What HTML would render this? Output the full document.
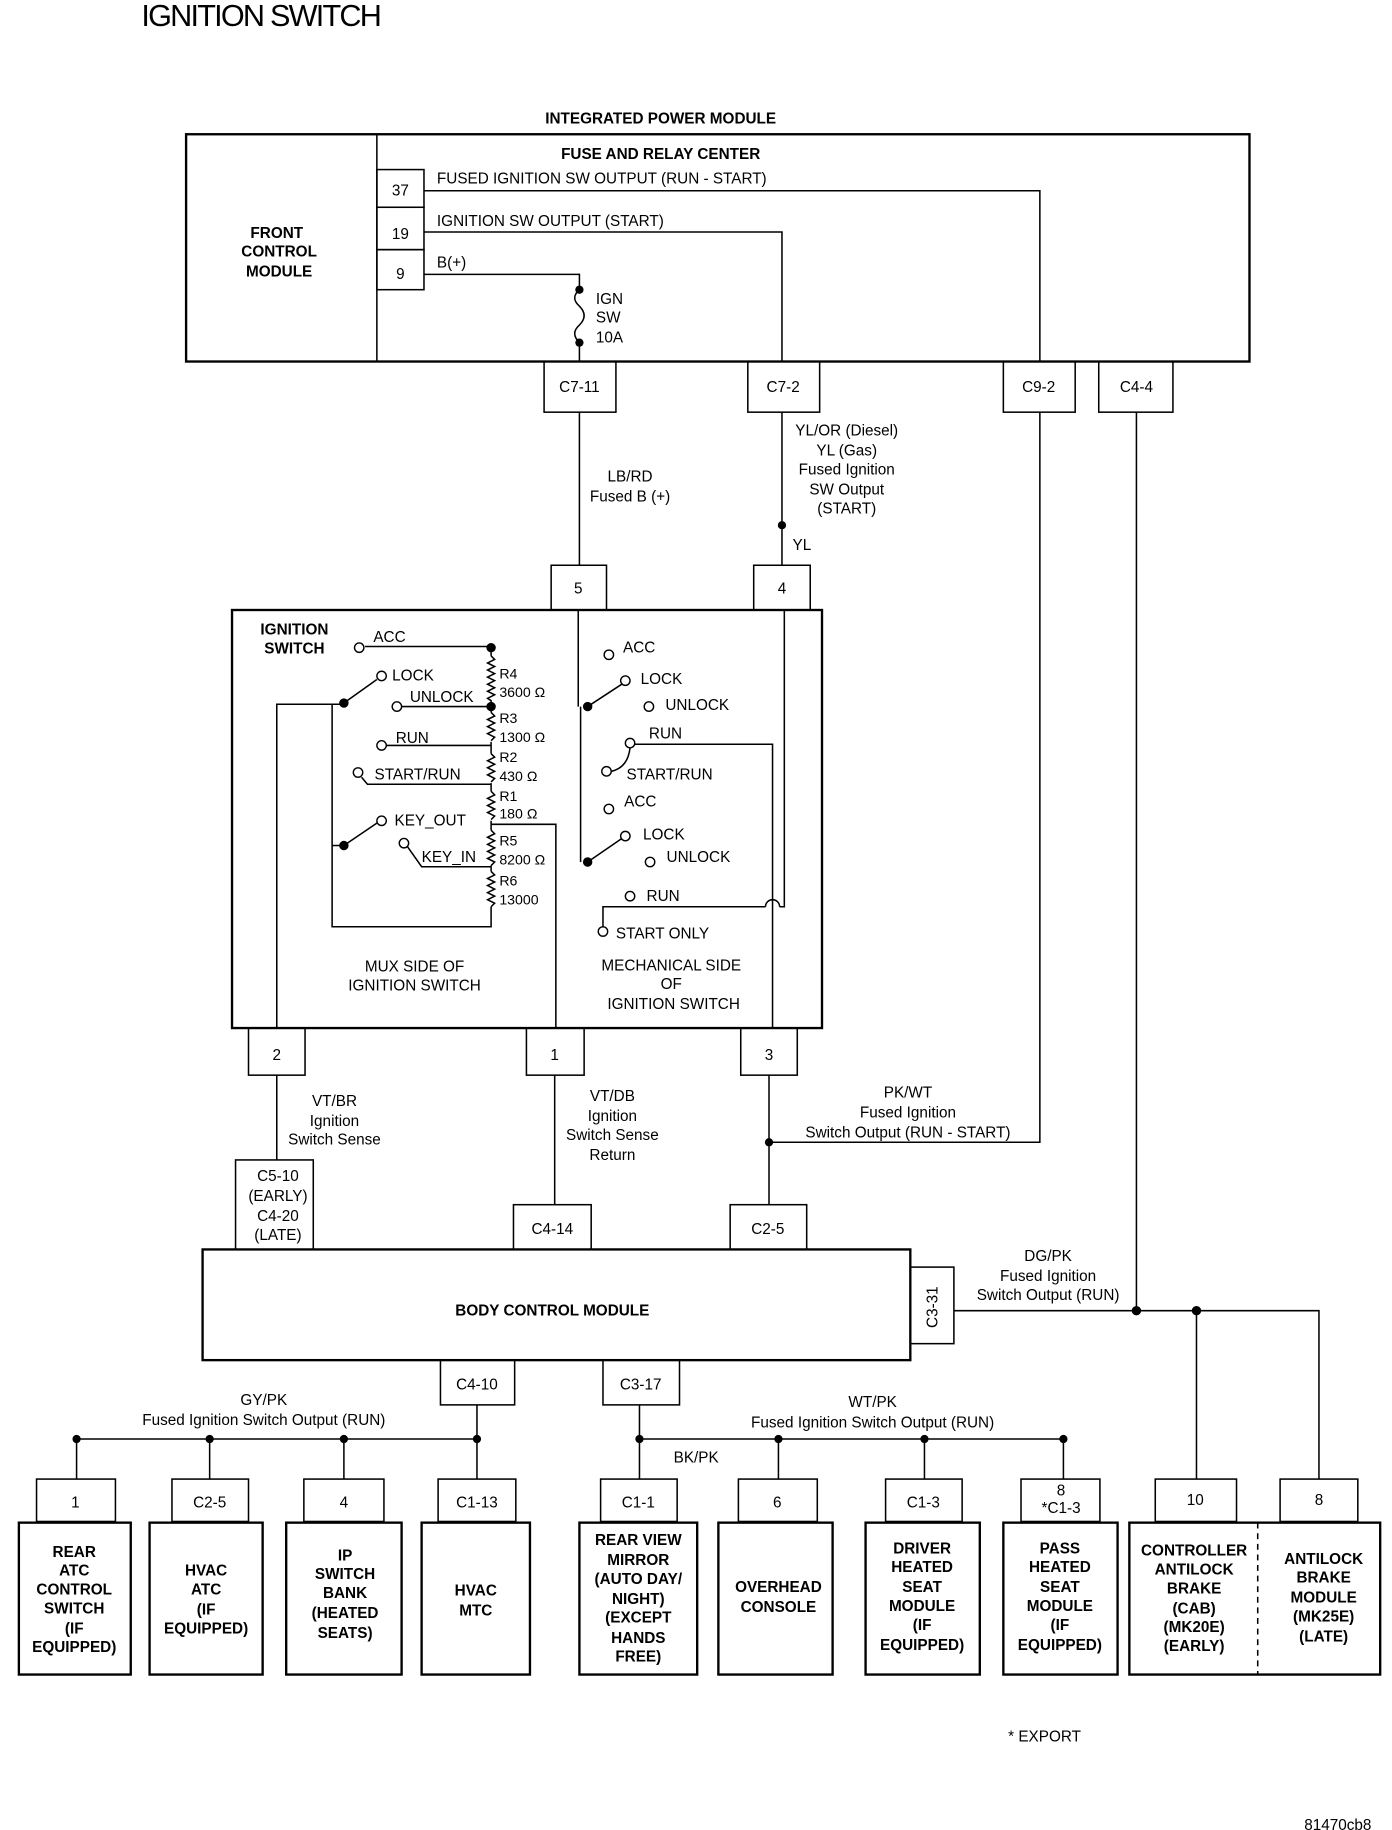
<!DOCTYPE html>
<html><head><meta charset="utf-8"><style>
html,body{margin:0;padding:0;background:#fff}
svg{display:block}
text{font-family:"Liberation Sans",sans-serif;fill:#000}
.b{font-weight:bold;font-size:13px}
.n{font-size:13px}
</style></head><body>
<svg width="1392" height="1830" viewBox="0 0 1182 1554" xmlns="http://www.w3.org/2000/svg">
<g fill="none" stroke="#000" stroke-width="1.3">
<!-- IPM -->
<rect x="158" y="114" width="903" height="193" stroke-width="2"/>
<line x1="320" y1="114" x2="320" y2="307"/>
<rect x="320" y="144" width="40" height="32"/><rect x="320" y="176" width="40" height="36"/><rect x="320" y="212" width="40" height="34"/>
<polyline points="360,162 883,162 883,307"/>
<polyline points="360,197 664,197 664,307"/>
<polyline points="360,233 492,233 492,246"/>
<path d="M492,246 q-8,7 0,14 q8,8 0,16 q-8,7 0,15"/>
<line x1="492" y1="291" x2="492" y2="307"/>
<rect x="462" y="307" width="61" height="43"/><rect x="635" y="307" width="61" height="43"/>
<rect x="852" y="307" width="61" height="43"/><rect x="933" y="307" width="63" height="43"/>
<line x1="492" y1="350" x2="492" y2="480"/>
<line x1="664" y1="350" x2="664" y2="480"/>
<polyline points="883,350 883,970 653,970"/>
<line x1="965" y1="350" x2="965" y2="1113"/>
<rect x="468" y="480" width="47" height="38"/><rect x="640" y="480" width="48" height="38"/>
<!-- ignition switch -->
<rect x="197" y="518" width="501" height="355" stroke-width="2"/>
<polyline points="417,700 472,700 472,873"/>
<polyline points="292,598 235,598 235,873"/>
<polyline points="282,598 282,787 417,787 417,770"/>
<line x1="282" y1="718" x2="292" y2="718"/>
<polyline points="310,549 417,549 417,557"/>
<line x1="417" y1="598" x2="417" y2="605"/><line x1="417" y1="630" x2="417" y2="640"/>
<line x1="417" y1="665" x2="417" y2="672"/><line x1="417" y1="697" x2="417" y2="705"/>
<line x1="417" y1="735" x2="417" y2="740"/>
<path d="M417,557 l3,3 l-6,3 l6,3 l-6,3 l6,3 l-6,3 l6,3 l-6,3 l6,3 l-6,3 l6,3 l-6,3 l3,2 l0,3"/>
<path d="M417,605 l3,3 l-6,3 l6,3 l-6,3 l6,3 l-6,3 l6,3 l-3,3"/>
<path d="M417,640 l3,3 l-6,3 l6,3 l-6,3 l6,3 l-6,3 l6,3 l-3,3"/>
<path d="M417,672 l3,3 l-6,3 l6,3 l-6,3 l6,3 l-6,3 l6,3 l-3,3"/>
<path d="M417,705 l3,3 l-6,3 l6,3 l-6,3 l6,3 l-6,3 l6,3 l-6,3 l6,3 l-3,3"/>
<path d="M417,740 l3,3 l-6,3 l6,3 l-6,3 l6,3 l-6,3 l6,3 l-6,3 l6,3 l-3,3"/>
<line x1="341" y1="600" x2="417" y2="600"/>
<line x1="328" y1="633" x2="417" y2="633"/>
<polyline points="307,660 312,666 417,666"/>
<polyline points="346,719 358,736 417,736"/>
<line x1="292" y1="597" x2="320" y2="577"/>
<line x1="292" y1="718" x2="320" y2="699"/>
<!-- mech -->
<polyline points="491,518 491,600"/><line x1="493" y1="600" x2="493" y2="732"/>
<line x1="499" y1="600" x2="528" y2="581"/><line x1="499" y1="732" x2="528" y2="712"/>
<polyline points="539,632 656,632 656,873"/>
<path d="M519,655 q14,-3 16,-20"/>
<polyline points="512,787 512,770 650,770"/><path d="M650,770 a6,6 0 0 1 12,0"/>
<polyline points="662,770 666,770 666,518"/>
<!-- pins -->
<rect x="211" y="873" width="48" height="40"/><rect x="447" y="873" width="49" height="40"/><rect x="629" y="873" width="48" height="40"/>
<line x1="235" y1="913" x2="235" y2="985"/><line x1="471" y1="913" x2="471" y2="1023"/><line x1="653" y1="913" x2="653" y2="1023"/>
<rect x="200" y="985" width="66" height="76"/><rect x="436" y="1023" width="66" height="38"/><rect x="620" y="1023" width="65" height="38"/>
<!-- BCM -->
<rect x="172" y="1061" width="601" height="94" stroke-width="2"/>
<rect x="773" y="1076" width="37" height="65"/>
<polyline points="810,1113 1120,1113 1120,1256"/>
<line x1="1016" y1="1113" x2="1016" y2="1256"/>
<rect x="374" y="1155" width="63" height="38"/><rect x="512" y="1155" width="65" height="38"/>
<polyline points="405,1193 405,1222"/><line x1="65" y1="1222" x2="405" y2="1222"/>
<line x1="65" y1="1222" x2="65" y2="1256"/><line x1="178" y1="1222" x2="178" y2="1256"/><line x1="292" y1="1222" x2="292" y2="1256"/><line x1="405" y1="1222" x2="405" y2="1256"/>
<line x1="543" y1="1193" x2="543" y2="1256"/><line x1="543" y1="1222" x2="903" y2="1222"/>
<line x1="661" y1="1222" x2="661" y2="1256"/><line x1="785" y1="1222" x2="785" y2="1256"/><line x1="903" y1="1222" x2="903" y2="1256"/>
<rect x="31" y="1256" width="67" height="36"/><rect x="146" y="1256" width="65" height="36"/><rect x="258" y="1256" width="68" height="36"/><rect x="372" y="1256" width="66" height="36"/>
<rect x="510" y="1256" width="65" height="36"/><rect x="627" y="1256" width="67" height="36"/><rect x="752" y="1256" width="65" height="36"/><rect x="867" y="1256" width="67" height="36"/>
<rect x="981" y="1256" width="69" height="36"/><rect x="1087" y="1256" width="66" height="36"/>
<g stroke-width="2">
<rect x="16" y="1293" width="95" height="129"/><rect x="127" y="1293" width="96" height="129"/><rect x="243" y="1293" width="98" height="129"/><rect x="358" y="1293" width="92" height="129"/>
<rect x="492" y="1293" width="100" height="129"/><rect x="610" y="1293" width="97" height="129"/><rect x="735" y="1293" width="97" height="129"/><rect x="852" y="1293" width="97" height="129"/>
<rect x="959" y="1293" width="213" height="129"/>
</g>
<line x1="1068" y1="1293" x2="1068" y2="1422" stroke-dasharray="5,4"/>
</g>
<g fill="#000">
<circle cx="492" cy="246" r="3.5"/><circle cx="492" cy="291" r="3.5"/><circle cx="664" cy="446" r="3.5"/>
<circle cx="417" cy="550" r="4"/><circle cx="417" cy="600" r="4"/><circle cx="292" cy="597" r="4"/><circle cx="292" cy="718" r="4"/>
<circle cx="499" cy="600" r="4"/><circle cx="499" cy="732" r="4"/><circle cx="653" cy="970" r="3.5"/>
<circle cx="965" cy="1113" r="4"/><circle cx="1016" cy="1113" r="4"/>
<circle cx="65" cy="1222" r="3.5"/><circle cx="178" cy="1222" r="3.5"/><circle cx="292" cy="1222" r="3.5"/><circle cx="405" cy="1222" r="3.5"/>
<circle cx="543" cy="1222" r="3.5"/><circle cx="661" cy="1222" r="3.5"/><circle cx="785" cy="1222" r="3.5"/><circle cx="903" cy="1222" r="3.5"/>
</g>
<g fill="#fff" stroke="#000" stroke-width="1.2">
<circle cx="305" cy="550" r="4"/><circle cx="337" cy="600" r="4"/><circle cx="324" cy="574" r="4"/><circle cx="324" cy="633" r="4"/>
<circle cx="304" cy="656" r="4"/><circle cx="324" cy="697" r="4"/><circle cx="343" cy="716" r="4"/>
<circle cx="517" cy="556" r="4"/><circle cx="531" cy="578" r="4"/><circle cx="551" cy="600" r="4"/><circle cx="535" cy="631" r="4"/><circle cx="515" cy="655" r="4"/>
<circle cx="517" cy="687" r="4"/><circle cx="531" cy="710" r="4"/><circle cx="552" cy="732" r="4"/><circle cx="535" cy="761" r="4"/><circle cx="512" cy="791" r="4"/>
</g>
<text x="120" y="22" font-size="26" letter-spacing="-1.5">IGNITION SWITCH</text>
<g class="b" text-anchor="middle">
<text x="561" y="105">INTEGRATED POWER MODULE</text>
<text x="561" y="135">FUSE AND RELAY CENTER</text>
<text x="235" y="202">FRONT</text><text x="237" y="218">CONTROL</text><text x="237" y="235">MODULE</text>
<text x="250" y="539">IGNITION</text><text x="250" y="555">SWITCH</text>
<text x="469" y="1117">BODY CONTROL MODULE</text>
<text x="63" y="1322">REAR</text><text x="63" y="1338">ATC</text><text x="63" y="1354">CONTROL</text><text x="63" y="1370">SWITCH</text><text x="63" y="1387">(IF</text><text x="63" y="1403">EQUIPPED)</text>
<text x="175" y="1338">HVAC</text><text x="175" y="1354">ATC</text><text x="175" y="1371">(IF</text><text x="175" y="1387">EQUIPPED)</text>
<text x="293" y="1325">IP</text><text x="293" y="1341">SWITCH</text><text x="293" y="1357">BANK</text><text x="293" y="1374">(HEATED</text><text x="293" y="1391">SEATS)</text>
<text x="404" y="1355">HVAC</text><text x="404" y="1372">MTC</text>
<text x="542" y="1312">REAR VIEW</text><text x="542" y="1329">MIRROR</text><text x="542" y="1345">(AUTO DAY/</text><text x="542" y="1362">NIGHT)</text><text x="542" y="1378">(EXCEPT</text><text x="542" y="1395">HANDS</text><text x="542" y="1411">FREE)</text>
<text x="661" y="1352">OVERHEAD</text><text x="661" y="1369">CONSOLE</text>
<text x="783" y="1319">DRIVER</text><text x="783" y="1335">HEATED</text><text x="783" y="1352">SEAT</text><text x="783" y="1368">MODULE</text><text x="783" y="1384">(IF</text><text x="783" y="1401">EQUIPPED)</text>
<text x="900" y="1319">PASS</text><text x="900" y="1335">HEATED</text><text x="900" y="1352">SEAT</text><text x="900" y="1368">MODULE</text><text x="900" y="1384">(IF</text><text x="900" y="1401">EQUIPPED)</text>
<text x="1014" y="1321">CONTROLLER</text><text x="1014" y="1337">ANTILOCK</text><text x="1014" y="1353">BRAKE</text><text x="1014" y="1370">(CAB)</text><text x="1014" y="1386">(MK20E)</text><text x="1014" y="1402">(EARLY)</text>
<text x="1124" y="1328">ANTILOCK</text><text x="1124" y="1344">BRAKE</text><text x="1124" y="1361">MODULE</text><text x="1124" y="1377">(MK25E)</text><text x="1124" y="1394">(LATE)</text>
</g>
<g class="n" text-anchor="middle">
<text x="340" y="166">37</text><text x="340" y="203">19</text><text x="340" y="237">9</text>
<text x="492" y="333">C7-11</text><text x="665" y="333">C7-2</text><text x="882" y="333">C9-2</text><text x="965" y="333">C4-4</text>
<text x="535" y="409">LB/RD</text><text x="535" y="426">Fused B (+)</text>
<text x="719" y="370">YL/OR (Diesel)</text><text x="719" y="387">YL (Gas)</text><text x="719" y="403">Fused Ignition</text><text x="719" y="420">SW Output</text><text x="719" y="436">(START)</text>
<text x="491" y="504">5</text><text x="664" y="504">4</text>
<text x="352" y="825">MUX SIDE OF</text><text x="352" y="841">IGNITION SWITCH</text>
<text x="570" y="824">MECHANICAL SIDE</text><text x="570" y="840">OF</text><text x="572" y="857">IGNITION SWITCH</text>
<text x="235" y="900">2</text><text x="471" y="900">1</text><text x="653" y="900">3</text>
<text x="284" y="939">VT/BR</text><text x="284" y="956">Ignition</text><text x="284" y="972">Switch Sense</text>
<text x="520" y="935">VT/DB</text><text x="520" y="952">Ignition</text><text x="520" y="968">Switch Sense</text><text x="520" y="985">Return</text>
<text x="771" y="932">PK/WT</text><text x="771" y="949">Fused Ignition</text><text x="771" y="966">Switch Output (RUN - START)</text>
<text x="236" y="1003">C5-10</text><text x="236" y="1020">(EARLY)</text><text x="236" y="1037">C4-20</text><text x="236" y="1053">(LATE)</text>
<text x="469" y="1048">C4-14</text><text x="652" y="1048">C2-5</text>
<text x="890" y="1071">DG/PK</text><text x="890" y="1088">Fused Ignition</text><text x="890" y="1104">Switch Output (RUN)</text>
<text x="405" y="1180">C4-10</text><text x="544" y="1180">C3-17</text>
<text x="224" y="1193">GY/PK</text><text x="224" y="1210">Fused Ignition Switch Output (RUN)</text>
<text x="741" y="1195">WT/PK</text><text x="741" y="1212">Fused Ignition Switch Output (RUN)</text>
<text x="64" y="1280">1</text><text x="178" y="1280">C2-5</text><text x="292" y="1280">4</text><text x="405" y="1280">C1-13</text>
<text x="542" y="1280">C1-1</text><text x="660" y="1280">6</text><text x="784" y="1280">C1-3</text><text x="901" y="1270">8</text><text x="901" y="1285">*C1-3</text>
<text x="1015" y="1278">10</text><text x="1120" y="1278">8</text>
<text x="887" y="1479">* EXPORT</text><text x="1136" y="1554">81470cb8</text>
</g>
<g class="n">
<text x="371" y="156">FUSED IGNITION SW OUTPUT (RUN - START)</text>
<text x="371" y="192">IGNITION SW OUTPUT (START)</text>
<text x="371" y="227">B(+)</text>
<text x="506" y="258">IGN</text><text x="506" y="274">SW</text><text x="506" y="291">10A</text>
<text x="673" y="467">YL</text>
<text x="572" y="1242">BK/PK</text>
<text x="317" y="545">ACC</text><text x="333" y="578">LOCK</text><text x="348" y="596">UNLOCK</text><text x="336" y="631">RUN</text><text x="318" y="662">START/RUN</text>
<text x="335" y="701">KEY_OUT</text><text x="358" y="732">KEY_IN</text>
<text x="529" y="554">ACC</text><text x="544" y="581">LOCK</text><text x="565" y="603">UNLOCK</text><text x="551" y="627">RUN</text><text x="532" y="662">START/RUN</text>
<text x="530" y="685">ACC</text><text x="546" y="713">LOCK</text><text x="566" y="732">UNLOCK</text><text x="549" y="765">RUN</text><text x="523" y="797">START ONLY</text>
</g>
<g font-size="12">
<text x="424" y="576">R4</text><text x="424" y="592">3600 Ω</text><text x="424" y="614">R3</text><text x="424" y="630">1300 Ω</text>
<text x="424" y="647">R2</text><text x="424" y="663">430 Ω</text><text x="424" y="680">R1</text><text x="424" y="695">180 Ω</text>
<text x="424" y="718">R5</text><text x="424" y="734">8200 Ω</text><text x="424" y="752">R6</text><text x="424" y="768">13000</text>
</g>
<text x="0" y="0" class="n" text-anchor="middle" transform="translate(796,1110) rotate(-90)">C3-31</text>
</svg>
</body></html>
